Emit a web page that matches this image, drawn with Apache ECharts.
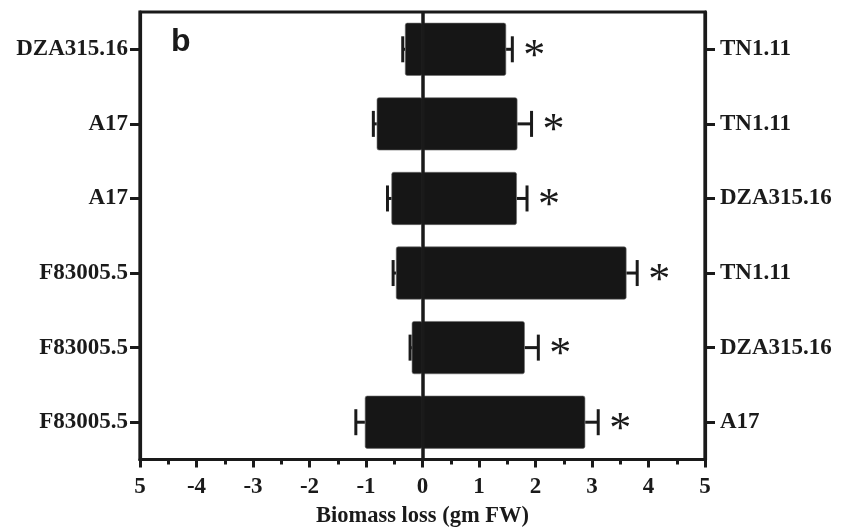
<!DOCTYPE html>
<html>
<head>
<meta charset="utf-8">
<script src="https://cdn.jsdelivr.net/npm/echarts@6/dist/echarts.min.js"></script>
<style>
html,body{margin:0;padding:0;background:#fff;}
#c{width:847px;height:529px;}
</style>
</head>
<body>
<div id="c"></div>
<script>
// Data (top to bottom)
const leftLabels = ['DZA315.16', 'A17', 'A17', 'F83005.5', 'F83005.5', 'F83005.5'];
const rightLabels = ['TN1.11', 'TN1.11', 'DZA315.16', 'TN1.11', 'DZA315.16', 'A17'];
const negValues = [-0.31, -0.81, -0.55, -0.47, -0.19, -1.02];
const posValues = [1.48, 1.68, 1.67, 3.61, 1.81, 2.88];
const errLow = [-0.35, -0.87, -0.62, -0.52, -0.22, -1.18];
const errHigh = [1.59, 1.93, 1.85, 3.80, 2.05, 3.11];
const significant = ['*', '*', '*', '*', '*', '*'];
const xTicks = [-5, -4, -3, -2, -1, 0, 1, 2, 3, 4, 5];
const xTickLabels = ['5', '-4', '-3', '-2', '-1', '0', '1', '2', '3', '4', '5'];

const idx = leftLabels.map((_, i) => String(i));
const INK = '#1a1a1a';
const SERIF = '"Liberation Serif", "Times New Roman", serif';

const chart = echarts.init(document.getElementById('c'), null, {renderer: 'canvas'});

const customData = leftLabels.map((_, i) => [i, errLow[i], errHigh[i], negValues[i], posValues[i]]);

const option = {
  animation: false,
  backgroundColor: '#ffffff',
  grid: {
    left: 140, right: 142, top: 12, bottom: 69.5,
    containLabel: false, outerBoundsMode: 'none',
    show: true, borderColor: INK, borderWidth: 3.2, backgroundColor: 'transparent'
  },
  xAxis: {
    type: 'value', min: -5, max: 5, interval: 1,
    name: 'Biomass loss (gm FW)', nameLocation: 'middle', nameGap: 45,
    nameTextStyle: {fontFamily: SERIF, fontWeight: 'bold', fontSize: 22.5, color: INK},
    axisLine: {show: true, onZero: false, lineStyle: {color: INK, width: 3.2}},
    axisTick: {show: true, length: 8, lineStyle: {color: INK, width: 3}},
    minorTick: {show: true, splitNumber: 2, length: 5, lineStyle: {color: INK, width: 3}},
    splitLine: {show: false},
    axisLabel: {
      margin: 16, fontFamily: SERIF, fontWeight: 'bold', fontSize: 23, color: INK,
      formatter: function (v) { const k = xTicks.indexOf(Math.round(v)); return k >= 0 ? xTickLabels[k] : ''; }
    }
  },
  yAxis: [
    {
      type: 'category', data: idx, inverse: true, position: 'left',
      axisLine: {show: true, onZero: false, lineStyle: {color: INK, width: 3.2}},
      axisTick: {show: true, alignWithLabel: true, length: 10, lineStyle: {color: INK, width: 3}},
      axisLabel: {
        margin: 12, fontFamily: SERIF, fontWeight: 'bold', fontSize: 23, color: INK,
        formatter: function (v, i) { return leftLabels[i]; }
      }
    },
    {
      type: 'category', data: idx, inverse: true, position: 'right',
      axisLine: {show: true, onZero: false, lineStyle: {color: INK, width: 3.2}},
      axisTick: {show: true, alignWithLabel: true, length: 10, lineStyle: {color: INK, width: 3}},
      axisLabel: {
        margin: 15, fontFamily: SERIF, fontWeight: 'bold', fontSize: 23, color: INK,
        formatter: function (v, i) { return rightLabels[i]; }
      }
    }
  ],
  graphic: [{
    type: 'text', left: 171, top: 26, z: 10,
    style: {text: 'b', font: 'bold 32px "Liberation Sans", Arial, sans-serif', fill: INK}
  }],
  series: [
    {
      type: 'line', data: [], z: 1, silent: true,
      markLine: {
        symbol: 'none', silent: true, label: {show: false},
        lineStyle: {color: INK, width: 3.5, type: 'solid'},
        data: [{xAxis: 0}]
      }
    },
    {
      type: 'bar', stack: 'b', data: negValues, barWidth: '71%', z: 2,
      itemStyle: {color: '#161616', borderColor: '#6a6a6a', borderWidth: 0.6, borderRadius: 2}
    },
    {
      type: 'bar', stack: 'b', data: posValues, barWidth: '71%', z: 2,
      itemStyle: {color: '#161616', borderColor: '#6a6a6a', borderWidth: 0.6, borderRadius: 2}
    },
    {
      type: 'custom', z: 3, silent: true,
      encode: {y: 0, x: [1, 2]},
      data: customData,
      renderItem: function (params, api) {
        const i = api.value(0);
        const pLo = api.coord([api.value(1), i]);
        const pHi = api.coord([api.value(2), i]);
        const pNeg = api.coord([api.value(3), i]);
        const pPos = api.coord([api.value(4), i]);
        const cap = 13;
        const st = {stroke: INK, lineWidth: 3};
        return {
          type: 'group',
          children: [
            {type: 'line', shape: {x1: pNeg[0], y1: pNeg[1], x2: pLo[0], y2: pLo[1]}, style: st},
            {type: 'line', shape: {x1: pLo[0], y1: pLo[1] - cap, x2: pLo[0], y2: pLo[1] + cap}, style: st},
            {type: 'line', shape: {x1: pPos[0], y1: pPos[1], x2: pHi[0], y2: pHi[1]}, style: st},
            {type: 'line', shape: {x1: pHi[0], y1: pHi[1] - cap, x2: pHi[0], y2: pHi[1] + cap}, style: st},
            {type: 'text', style: {
              text: significant[params.dataIndex], x: pHi[0] + 22, y: pHi[1] + 8,
              align: 'center', verticalAlign: 'middle',
              font: '44px "Liberation Serif", "Times New Roman", serif', fill: INK
            }}
          ]
        };
      }
    }
  ]
};
chart.setOption(option);
</script>
</body>
</html>
